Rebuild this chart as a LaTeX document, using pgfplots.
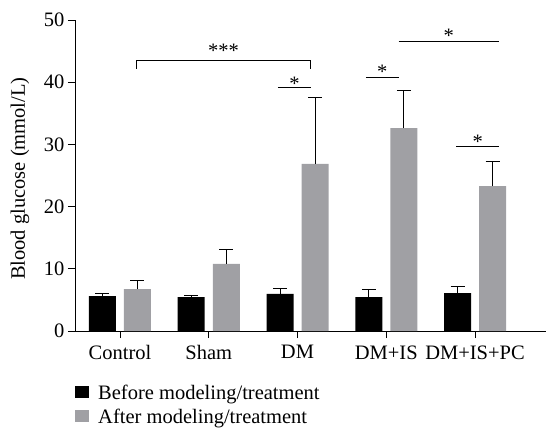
\documentclass[border=0pt]{standalone}
\usepackage{fontspec}
\setmainfont{Liberation Serif}
\usepackage{pgfplots}
\pgfplotsset{compat=1.18}
\definecolor{barg}{RGB}{160,160,164}
\newcommand{\bigf}{\fontsize{20.5}{24}\selectfont}
\begin{document}
\begin{tikzpicture}[x=1pt,y=1pt]
\begin{axis}[
  at={(0,0)}, anchor=south west,
  scale only axis, width=471pt, height=311pt,
  xmin=-0.507, xmax=4.8, ymin=0, ymax=50,
  axis x line*=bottom, axis y line*=left,
  axis line style={line width=0.9pt},
  xtick={0,1,2,3,4}, xticklabels={Control,Sham,DM,DM+IS,DM+IS+PC},
  ytick={0,10,20,30,40,50},
  tick align=outside, major tick length=7pt,
  tick style={line width=0.9pt, black},
  ticklabel style={font=\bigf},
  xticklabel style={yshift=-4pt},
  /pgf/number format/assume math mode=true,
  ylabel={Blood glucose (mmol/L)},
  ylabel style={font=\bigf, at={(axis description cs:-0.1168,0.49)}, anchor=center},
  ybar=8pt, bar width=27pt,
  legend style={draw=none, fill=none, at={(axis description cs:0,0)}, anchor=north west,
    xshift=-3pt, yshift=-50pt, font=\bigf, legend cell align=left,
    row sep=4pt, /tikz/every odd column/.append style={column sep=7pt}},
  legend image code/.code={\path[#1,draw=none] (0pt,-5pt) rectangle (14pt,7pt);},
]
\addplot[fill=black, draw=none,
  error bars/.cd, y dir=plus, y explicit,
  error bar style={line width=0.9pt, black},
  error mark options={rotate=90, mark size=7pt, line width=0.9pt, black}]
  coordinates {(0,5.6) +- (0,0.4) (1,5.45) +- (0,0.25) (2,5.95) +- (0,0.85) (3,5.45) +- (0,1.25) (4,6.1) +- (0,1.1)};
\addlegendentry{Before modeling/treatment}
\addplot[fill=barg, draw=none,
  error bars/.cd, y dir=plus, y explicit,
  error bar style={line width=0.9pt, black},
  error mark options={rotate=90, mark size=7pt, line width=0.9pt, black}]
  coordinates {(0,6.75) +- (0,1.4) (1,10.8) +- (0,2.3) (2,26.85) +- (0,10.75) (3,32.6) +- (0,6.1) (4,23.3) +- (0,4.0)};
\addlegendentry{After modeling/treatment}
\draw[line width=0.9pt] (axis cs:0.18,42.2) -- (axis cs:0.18,43.5) -- (axis cs:2.15,43.5) -- (axis cs:2.15,42.2);
\draw[line width=0.9pt] (axis cs:1.78,39.1) -- (axis cs:2.15,39.1);
\draw[line width=0.9pt] (axis cs:2.77,40.8) -- (axis cs:3.14,40.8);
\draw[line width=0.9pt] (axis cs:3.14,46.5) -- (axis cs:4.27,46.5);
\draw[line width=0.9pt] (axis cs:3.79,29.7) -- (axis cs:4.27,29.7);
\node[anchor=north, inner sep=0pt, font=\bigf] at (axis cs:1.165,46.2) {***};
\node[anchor=north, inner sep=0pt, font=\bigf] at (axis cs:1.965,40.8) {*};
\node[anchor=north, inner sep=0pt, font=\bigf] at (axis cs:2.955,42.8) {*};
\node[anchor=north, inner sep=0pt, font=\bigf] at (axis cs:3.705,48.6) {*};
\node[anchor=north, inner sep=0pt, font=\bigf] at (axis cs:4.03,31.5) {*};
\end{axis}
\pgfresetboundingbox
\path (-75pt,-101pt) rectangle (473pt,331pt);
\end{tikzpicture}
\end{document}
